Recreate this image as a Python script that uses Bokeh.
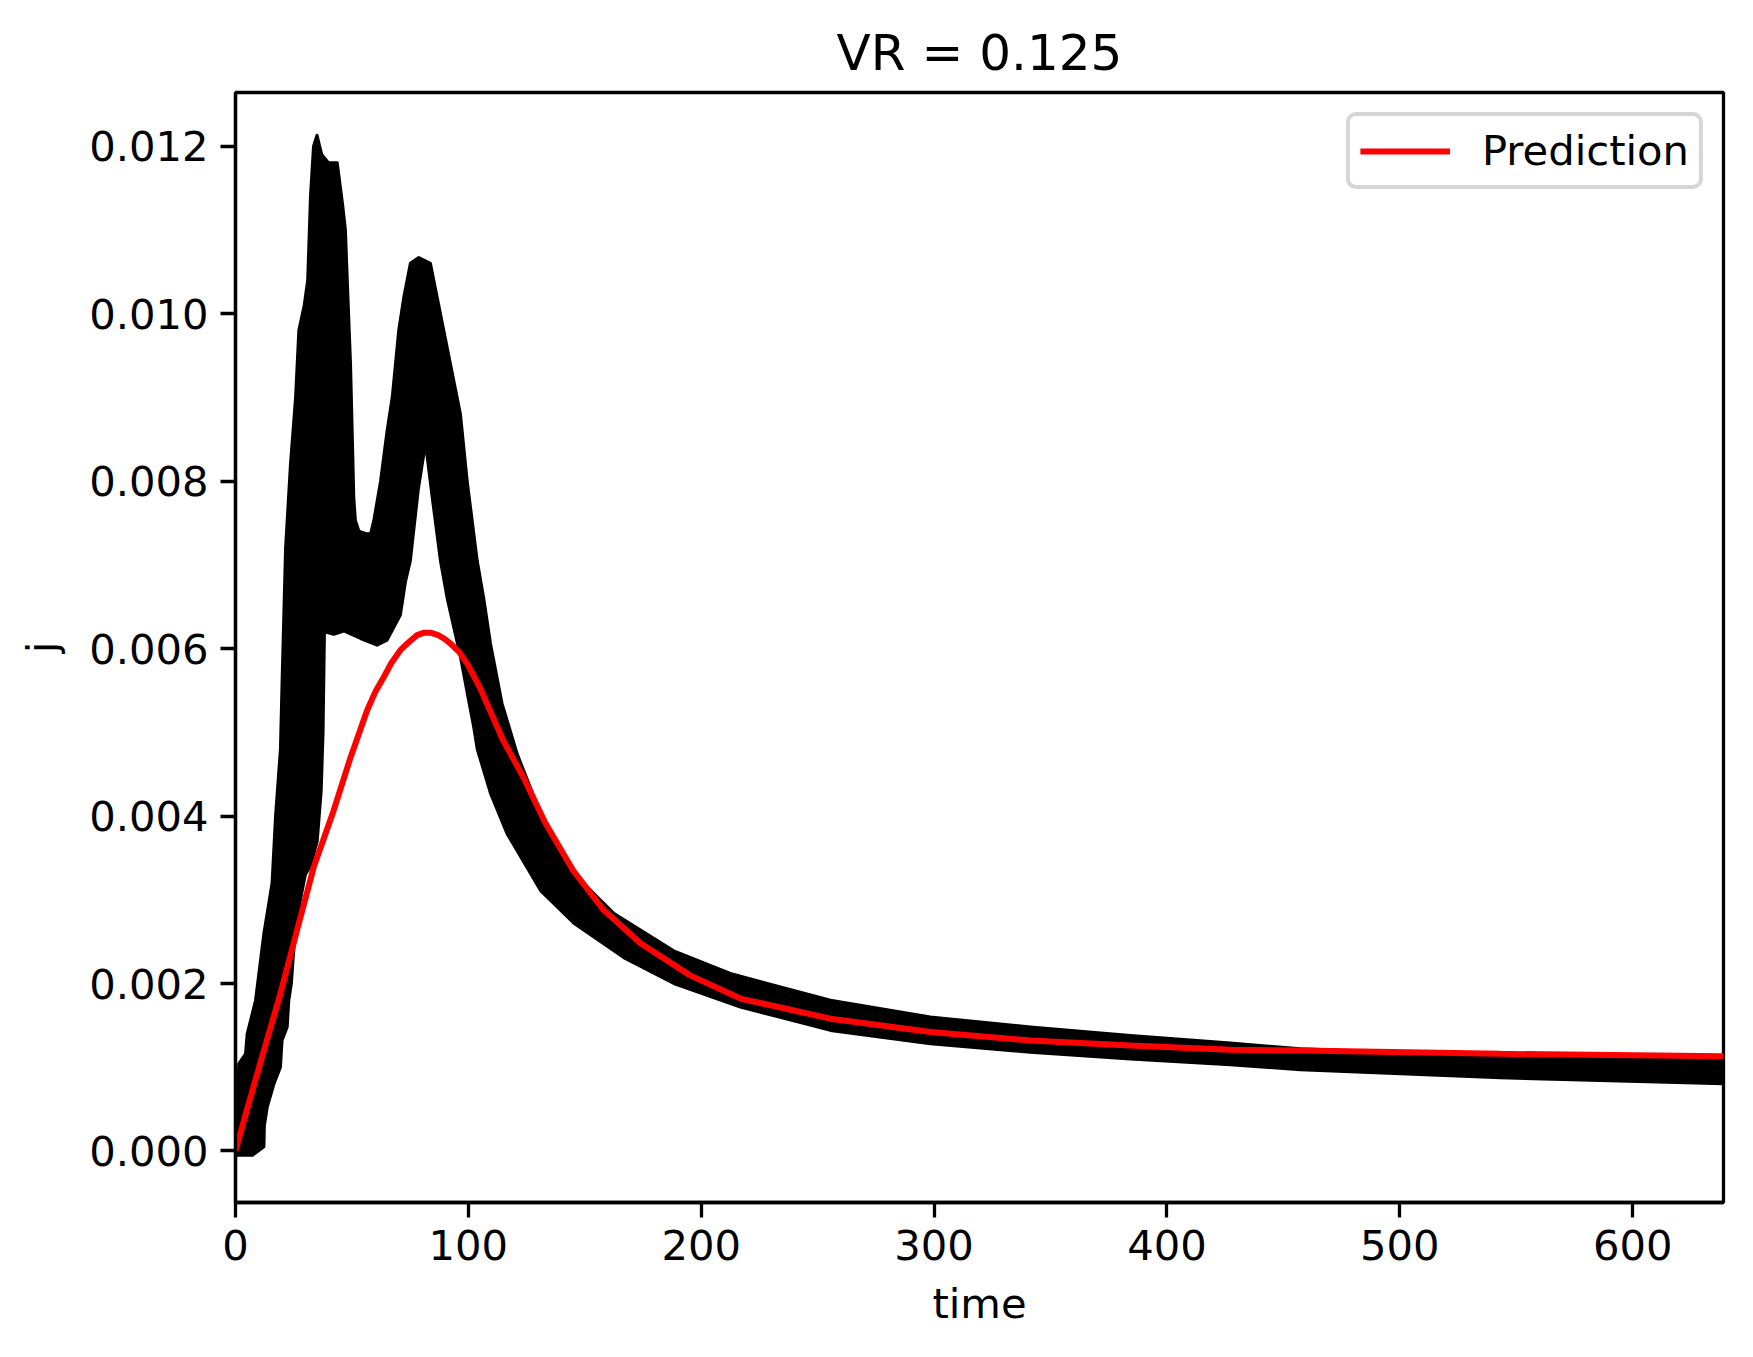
from bokeh.plotting import figure
from bokeh.models import Range1d, FixedTicker, PrintfTickFormatter, Legend, LegendItem
from bokeh.embed import file_html
from bokeh.resources import INLINE

# ---- data ----
# visible upper edge of the black scatter cloud (time, j)
t_upper = [0.0, 0.7, 1.4, 4.3, 5.0, 7.2, 8.6, 12.2, 15.7, 17.2, 19.3, 20.0, 21.5, 23.6,
           25.8, 27.2, 29.5, 31.0, 32.2, 33.5, 35.0, 37.0, 40.0, 43.7, 46.0, 47.2, 48.0,
           49.4, 50.1, 50.8, 51.5, 53.0, 56.5, 58.0, 59.4, 62.3, 65.1, 67.3, 68.7, 70.1,
           72.3, 75.1, 78.7, 83.7, 88.0, 92.3, 96.6, 99.5, 103.8, 106.6, 109.5, 114.5,
           121.0, 131.0, 145.3, 162.4, 188.2, 212.5, 255.5, 298.4, 341.3, 384.3, 427.2,
           457.3, 543.2, 639.0]
j_upper = [0.0003, 0.0005, 0.00104, 0.00116, 0.0014, 0.00164, 0.0018, 0.0026, 0.0032, 0.0040,
           0.0048, 0.0056, 0.0072, 0.0082, 0.0090, 0.0098, 0.0101, 0.0104, 0.0114, 0.0120,
           0.01213, 0.0119, 0.0118, 0.0118, 0.0113, 0.0110, 0.0104, 0.0094, 0.0086, 0.0078,
           0.00753, 0.0074, 0.00737, 0.00737, 0.00753, 0.0080, 0.0086, 0.0090, 0.0094, 0.0098,
           0.0102, 0.0106, 0.01067, 0.0106, 0.0100, 0.0094, 0.0088, 0.0080, 0.00705, 0.0066,
           0.00606, 0.00534, 0.00474, 0.00403, 0.00331, 0.00284, 0.00239, 0.00212, 0.0018,
           0.0016, 0.00148, 0.00138, 0.00129, 0.00122, 0.00113, 0.00108]

# visible lower edge of the black scatter cloud (time, j)
t_lower = [0.0, 7.3, 12.2, 12.4, 13.6, 16.5, 19.3, 20.0, 22.2, 22.9, 24.0, 25.0, 27.9, 30.0,
           32.2, 35.1, 36.8, 37.6, 38.2, 42.2, 46.5, 53.7, 60.8, 65.1, 70.8, 73.0, 75.1,
           78.5, 81.6, 84.5, 88.0, 90.9, 96.6, 102.3, 103.8, 109.5, 116.6, 131.0,
           145.3, 166.7, 188.2, 216.8, 255.5, 298.4, 341.3, 384.3, 427.2, 457.3, 543.2, 639.0]
j_lower = [-0.00005, -0.00005, 0.00005, 0.0003, 0.00052, 0.0008, 0.0010, 0.00132, 0.00148,
           0.0018, 0.0020, 0.0024, 0.0030, 0.0033, 0.0034, 0.0037, 0.0043, 0.0050, 0.0062,
           0.00617, 0.00621, 0.00612, 0.00604, 0.0061, 0.0064, 0.0068, 0.00705,
           0.0079, 0.00845, 0.0078, 0.00705, 0.0066, 0.0059, 0.00506, 0.0048, 0.00427, 0.00379,
           0.00311, 0.00272, 0.00231, 0.0020, 0.00172, 0.00144, 0.00128, 0.00118, 0.0011,
           0.00103, 0.00097, 0.000874, 0.000802]

# prediction curve (time, j)
pred_t = [0.0, 5.0, 12.2, 19.3, 27.9, 33.6, 42.2, 49.4, 56.5, 60.0, 63.7, 67.0, 70.8, 73.0,
          75.0, 78.0, 81.0, 83.7, 87.0, 89.5, 92.3, 96.0, 99.5, 105.2, 108.0, 115.0, 123.7,
          133.0, 145.0, 158.0, 173.9, 195.0, 216.8, 255.5, 298.4, 341.3, 384.3, 427.2, 457.3,
          543.2, 639.0]
pred_j = [0.0, 0.0005, 0.0012, 0.00188, 0.00279, 0.00339, 0.00407, 0.0047, 0.00526, 0.00548,
          0.00566, 0.00583, 0.00598, 0.00604, 0.00609, 0.00616, 0.00619, 0.00619, 0.00616,
          0.00612, 0.00606, 0.00596, 0.00582, 0.00552, 0.00534, 0.0049, 0.00446, 0.00392,
          0.00335, 0.00288, 0.00248, 0.00210, 0.00182, 0.00158, 0.00142, 0.00132, 0.00126,
          0.00121, 0.0012, 0.00116, 0.00113]

x_ticks = [0, 100, 200, 300, 400, 500, 600]
y_ticks = [0.0, 0.002, 0.004, 0.006, 0.008, 0.010, 0.012]

FONT = "DejaVu Sans"
LW = 3.3

p = figure(width=1737, height=1341, output_backend="svg", toolbar_location=None,
           x_range=Range1d(0, 639), y_range=Range1d(-0.000615, 0.01264),
           title="VR = 0.125",
           min_border_left=235, min_border_right=14, min_border_top=92, min_border_bottom=139)

p.background_fill_color = "white"
p.border_fill_color = "white"
p.grid.visible = False
p.outline_line_color = "black"
p.outline_line_width = LW
p.outline_line_alpha = 1.0

# black scatter cloud as filled region between its edges
px = list(t_upper) + list(reversed(t_lower))
py = list(j_upper) + list(reversed(j_lower))
p.patch(x=px, y=py, fill_color="black", line_color="black", line_width=3, line_join="round")

r = p.line(pred_t, pred_j, line_color="red", line_width=6)

for ax in (p.xaxis[0], p.yaxis[0]):
    ax.axis_line_color = "black"
    ax.axis_line_width = LW
    ax.major_tick_line_color = "black"
    ax.major_tick_line_width = LW
    ax.major_tick_out = 15
    ax.major_tick_in = 0
    ax.minor_tick_out = 0
    ax.minor_tick_in = 0
    ax.major_label_text_font = FONT
    ax.major_label_text_font_size = "41.7px"
    ax.major_label_text_color = "black"
    ax.major_label_standoff = 12
    ax.axis_label_text_font = FONT
    ax.axis_label_text_font_size = "41.7px"
    ax.axis_label_text_font_style = "normal"
    ax.axis_label_text_color = "black"

p.xaxis[0].axis_label_standoff = 16
p.yaxis[0].axis_label_standoff = 20

p.xaxis.ticker = FixedTicker(ticks=x_ticks)
p.yaxis.ticker = FixedTicker(ticks=y_ticks)
p.yaxis.formatter = PrintfTickFormatter(format="%.3f")
p.xaxis.axis_label = "time"
p.yaxis.axis_label = "j"

p.title.align = "center"
p.title.text_font = FONT
p.title.text_font_size = "50px"
p.title.text_font_style = "normal"
p.title.text_color = "black"
p.title.standoff = 22

legend = Legend(items=[LegendItem(label="Prediction", renderers=[r])], location="top_right")
legend.margin = 20
legend.padding = 10
legend.spacing = 0
legend.glyph_width = 90
legend.glyph_height = 44
legend.label_standoff = 32
legend.label_text_font = FONT
legend.label_text_font_size = "41.7px"
legend.label_text_color = "black"
legend.border_line_color = "#cccccc"
legend.border_line_width = 4
legend.border_line_alpha = 0.8
legend.background_fill_color = "white"
legend.background_fill_alpha = 0.8
try:
    legend.border_radius = 10
except Exception:
    pass
p.add_layout(legend)

open("out.html", "w").write(file_html(p, INLINE))
